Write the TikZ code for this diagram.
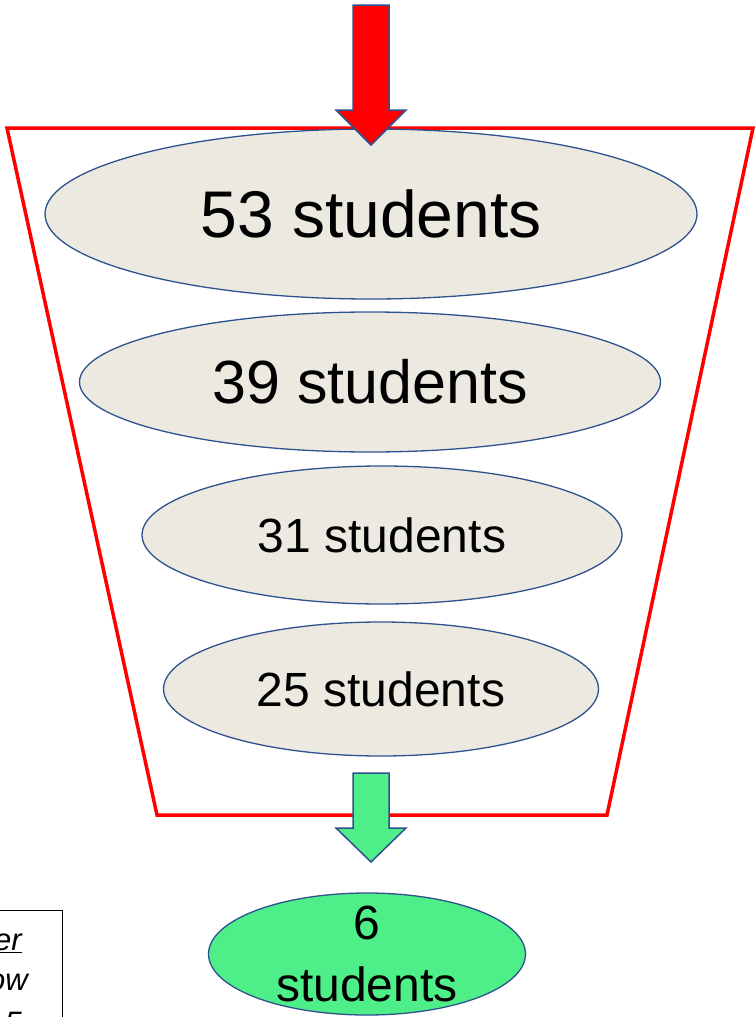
\documentclass[tikz,border=0pt]{standalone}
\usepackage{fontspec}
\setmainfont{Liberation Sans}
\usetikzlibrary{shapes.geometric}
\definecolor{beige}{HTML}{ECEAE0}
\definecolor{edgeblue}{HTML}{2E528F}
\definecolor{mint}{HTML}{4EEE88}
\definecolor{funnelred}{HTML}{FF0000}
\tikzset{
  stage/.style={ellipse, draw=edgeblue, line width=1.3pt, fill=beige, inner sep=0pt},
  big/.style={font=\fontsize{66}{79}\selectfont},
  mid/.style={font=\fontsize{61}{73}\selectfont},
  small/.style={font=\fontsize{48}{58}\selectfont},
  blockarrow/.style={draw=edgeblue, line width=1.5pt, line join=miter},
  funnel/.style={draw=funnelred, line width=3.5pt, line join=miter},
  note/.style={font=\fontsize{31}{37}\selectfont\itshape, inner sep=0pt}
}
\begin{document}
\begin{tikzpicture}[x=1pt,y=-1pt]
\useasboundingbox (0,0) rectangle (755,1017);
\begin{scope}
\clip (0,0) rectangle (755,1017);
% funnel
\draw[funnel] (7,128) -- (753,128) -- (607,815) -- (157,815) -- cycle;
% stages
\node[stage, big, minimum width=652pt, minimum height=170pt] (s1) at (371,214) {53 students};
\node[stage, mid, minimum width=581pt, minimum height=140pt] (s2) at (370,382) {39 students};
\node[stage, small, minimum width=480pt, minimum height=138pt] (s3) at (382,535) {31 students};
\node[stage, small, minimum width=435pt, minimum height=134pt] (s4) at (381,689) {25 students};
% result
\node[ellipse, draw=edgeblue, line width=1.3pt, fill=mint, inner sep=0pt, minimum width=317pt, minimum height=122pt] (g) at (367,954) {};
\node[small, align=center, inner sep=0pt, font=\fontsize{48}{62}\selectfont] (gt) at (g.center) {6\\students};
% arrows
\draw[blockarrow, fill=funnelred] (353,5) -- (389,5) -- (389,110) -- (406,110) -- (371,145) -- (336,110) -- (353,110) -- cycle;
\draw[blockarrow, fill=mint] (353,773) -- (389,773) -- (389,828) -- (406,828) -- (371,862) -- (336,828) -- (353,828) -- cycle;
% partial note box at lower left
\draw[black, line width=1pt] (-5,910) rectangle (62,1040);
\node[note, anchor=base east] (n1) at (22,950) {\underline{er}};
\node[note, anchor=base east] (n2) at (28,990) {ow};
\node[note, anchor=base east] (n3) at (22,1033) {5};
\end{scope}
\end{tikzpicture}
\end{document}
